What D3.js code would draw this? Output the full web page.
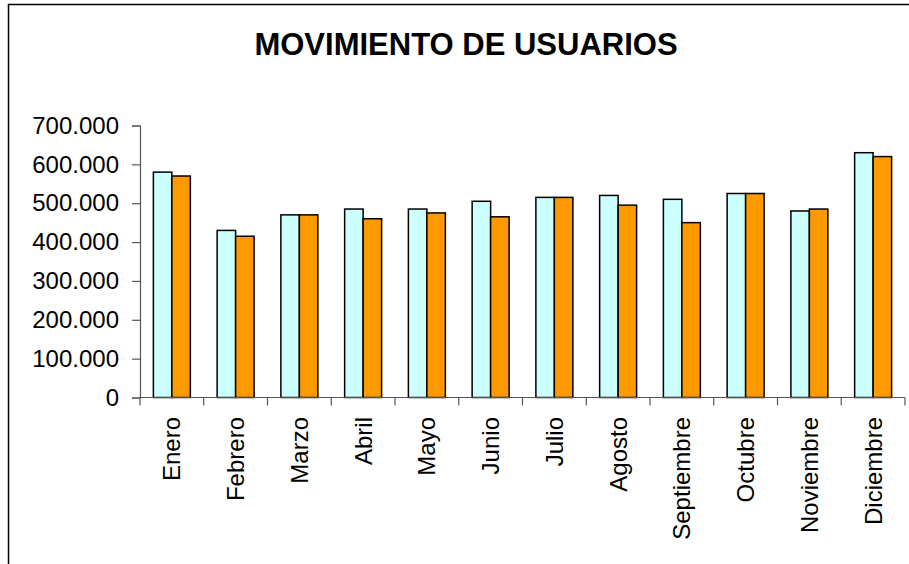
<!DOCTYPE html>
<html>
<head>
<meta charset="utf-8">
<script src="https://cdn.jsdelivr.net/npm/d3@7"></script>
<style>
  body { margin: 0; background: #fff; }
  text { font-family: "Liberation Sans", Arial, sans-serif; }
</style>
</head>
<body>
<div id="chart"></div>
<script>
const meses = ["Enero", "Febrero", "Marzo", "Abril", "Mayo", "Junio", "Julio",
  "Agosto", "Septiembre", "Octubre", "Noviembre", "Diciembre"];
const serie1 = [580000, 430000, 470000, 485000, 485000, 505000, 515000,
  520000, 510000, 525000, 480000, 630000];
const serie2 = [570000, 415000, 470000, 460000, 475000, 465000, 515000,
  495000, 450000, 525000, 485000, 620000];
const yTicks = [0, 100000, 200000, 300000, 400000, 500000, 600000, 700000];

const width = 909, height = 564;
const svg = d3.select("#chart").append("svg")
  .attr("width", width)
  .attr("height", height);

// outer frame (runs off the right and bottom edge)
svg.append("rect")
  .attr("x", 8.5).attr("y", 4.5)
  .attr("width", 1200).attr("height", 1200)
  .attr("fill", "none")
  .attr("stroke", "#000")
  .attr("stroke-width", 1.5);

svg.append("text")
  .attr("x", 466).attr("y", 55)
  .attr("text-anchor", "middle")
  .attr("font-size", "31px")
  .attr("font-weight", "bold")
  .text("MOVIMIENTO DE USUARIOS");

const plotLeft = 140, plotRight = 905, plotTop = 125.5, plotBottom = 397.5;

const y = d3.scaleLinear().domain([0, 700000]).range([plotBottom, plotTop]);
const x0 = d3.scaleBand().domain(meses).range([plotLeft, plotRight])
  .paddingInner(0.42).paddingOuter(0.21);
const x1 = d3.scaleBand().domain([0, 1]).range([0, x0.bandwidth()]);

// y axis
const fmt = d => d3.format(",")(d).replace(/,/g, ".");
const yAxis = svg.append("g")
  .attr("transform", `translate(${plotLeft},0)`)
  .call(d3.axisLeft(y).tickValues(yTicks).tickSize(8).tickPadding(13).tickFormat(fmt));
yAxis.select(".domain").attr("stroke", "#555").attr("stroke-width", 1.2);
yAxis.selectAll(".tick line").attr("stroke", "#555").attr("stroke-width", 1.2);
yAxis.selectAll(".tick text")
  .attr("font-size", "24px")
  .attr("fill", "#000")
  .attr("font-family", "Liberation Sans, Arial, sans-serif");

// bars
const groups = svg.append("g").selectAll("g")
  .data(meses)
  .join("g")
  .attr("transform", d => `translate(${x0(d)},0)`);

groups.append("rect")
  .attr("x", x1(0))
  .attr("y", (d, i) => y(serie1[i]))
  .attr("width", x1.bandwidth())
  .attr("height", (d, i) => plotBottom - y(serie1[i]))
  .attr("fill", "#ccffff")
  .attr("stroke", "#000")
  .attr("stroke-width", 1.5);

groups.append("rect")
  .attr("x", x1(1))
  .attr("y", (d, i) => y(serie2[i]))
  .attr("width", x1.bandwidth())
  .attr("height", (d, i) => plotBottom - y(serie2[i]))
  .attr("fill", "#ff9900")
  .attr("stroke", "#000")
  .attr("stroke-width", 1.5);

// x axis line and ticks between categories
svg.append("line")
  .attr("x1", plotLeft).attr("x2", plotRight)
  .attr("y1", plotBottom).attr("y2", plotBottom)
  .attr("stroke", "#555").attr("stroke-width", 1.2);

svg.append("g").selectAll("line")
  .data(d3.range(meses.length + 1))
  .join("line")
  .attr("x1", i => plotLeft + i * x0.step())
  .attr("x2", i => plotLeft + i * x0.step())
  .attr("y1", plotBottom).attr("y2", plotBottom + 8)
  .attr("stroke", "#555").attr("stroke-width", 1.2);

// rotated month labels
svg.append("g").selectAll("text")
  .data(meses)
  .join("text")
  .attr("transform", d => `translate(${x0(d) + x0.bandwidth() / 2},417) rotate(-90)`)
  .attr("text-anchor", "end")
  .attr("dy", "0.35em")
  .attr("font-size", "24px")
  .text(d => d);
</script>
</body>
</html>
